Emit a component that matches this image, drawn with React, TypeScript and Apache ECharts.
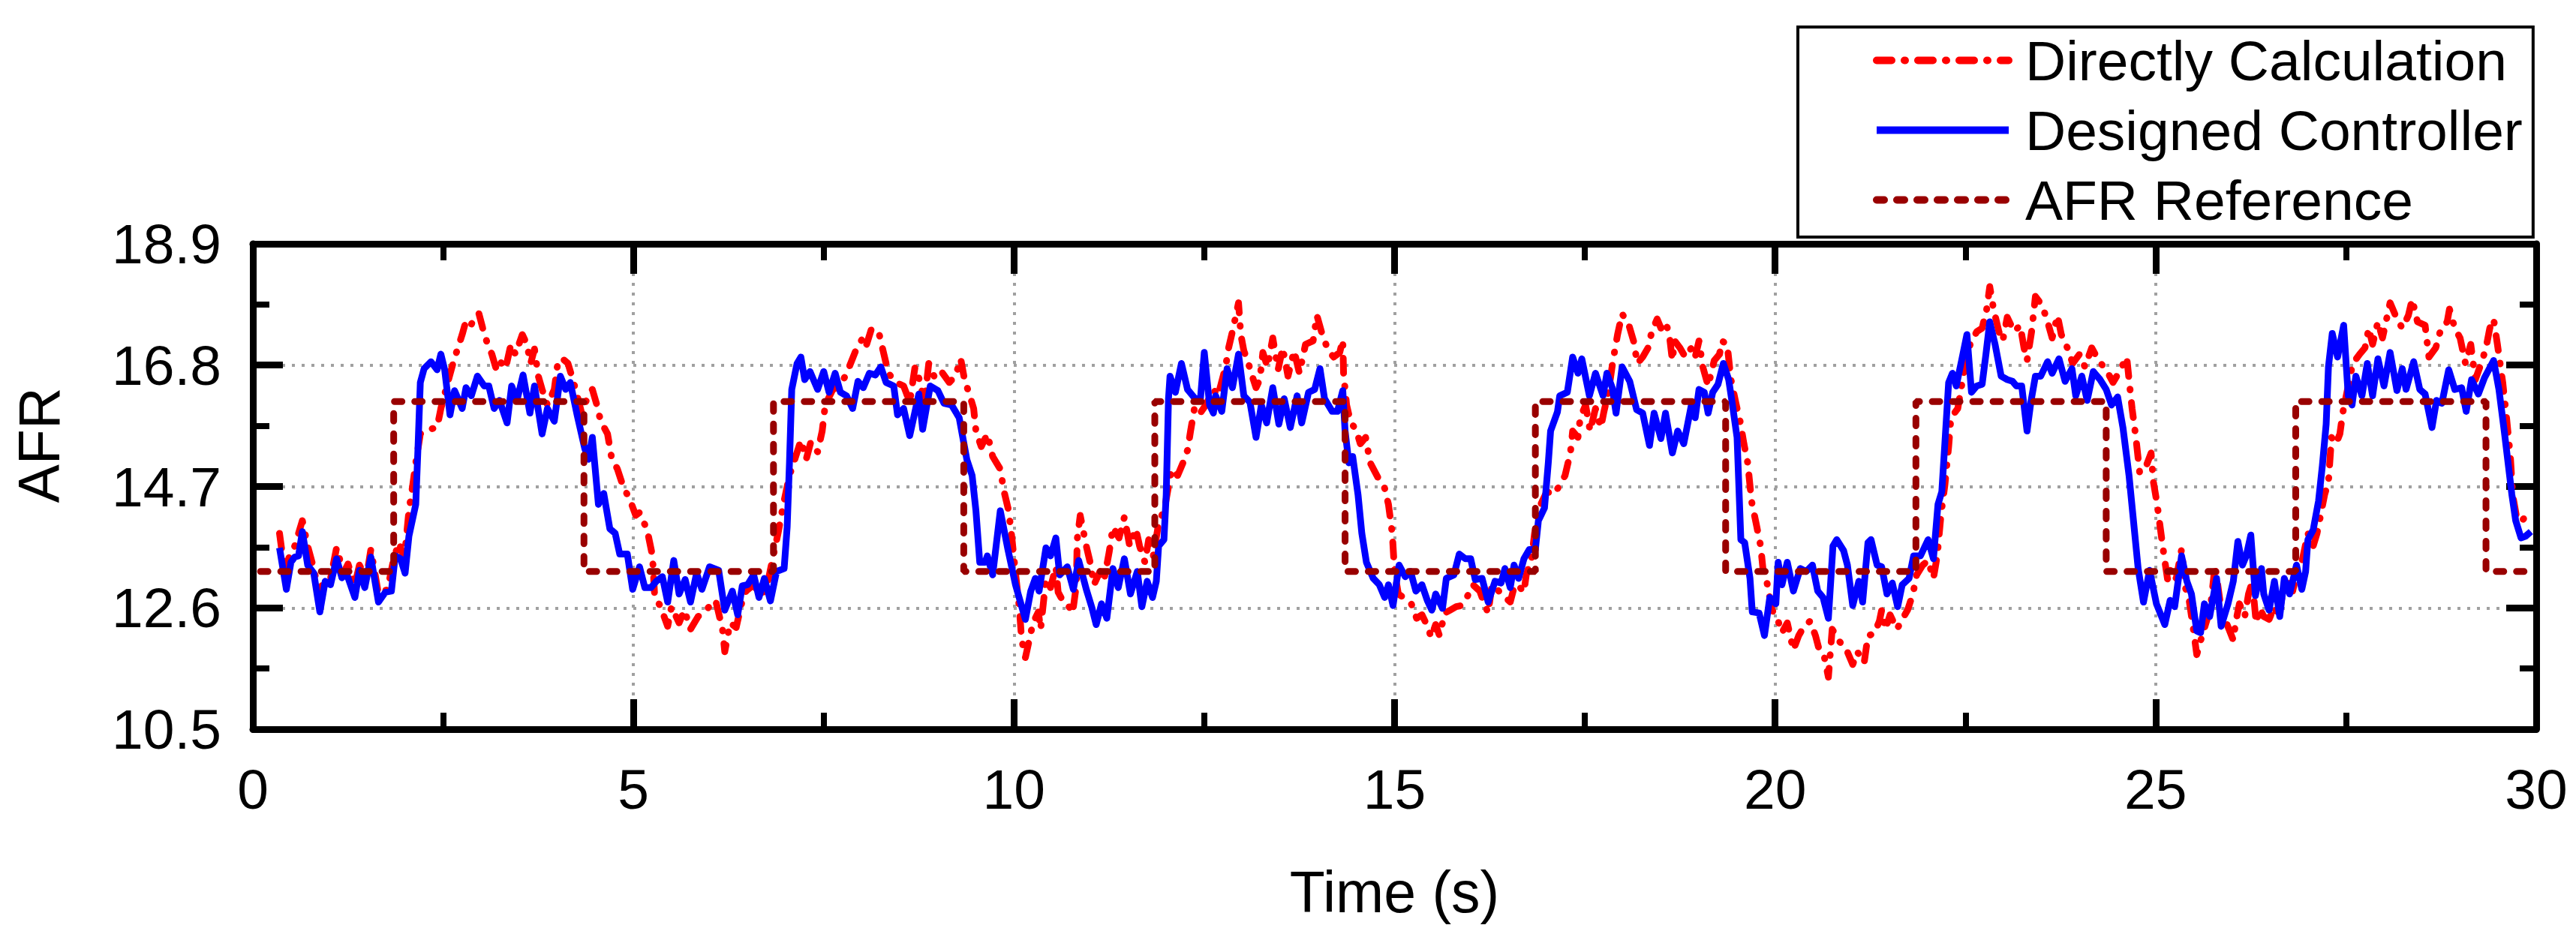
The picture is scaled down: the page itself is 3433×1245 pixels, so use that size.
import React, { useEffect, useRef } from "react";
import * as echarts from "echarts";

// ---- data ----
const xTicks = { min: 0, max: 30, interval: 5 };
const yTicks = { min: 10.5, max: 18.9, interval: 2.1 };

const seriesNames = ["Directly Calculation", "Designed Controller", "AFR Reference"];

const refTime = [0.1, 1.85, 1.85, 4.35, 4.35, 6.84, 6.84, 9.34, 9.34, 11.85, 11.85, 14.35, 14.35, 16.85, 16.85, 19.35, 19.35, 21.85, 21.85, 24.35, 24.35, 26.84, 26.84, 29.34, 29.34, 30];
const refAFR = [13.23, 13.23, 16.17, 16.17, 13.23, 13.23, 16.17, 16.17, 13.23, 13.23, 16.17, 16.17, 13.23, 13.23, 16.17, 16.17, 13.23, 13.23, 16.17, 16.17, 13.23, 13.23, 16.17, 16.17, 13.23, 13.23];

const designedController: [number, number][] = [
  [0.35, 13.64], [0.44, 12.92], [0.5, 13.39], [0.55, 13.48], [0.6, 13.5], [0.65, 13.92], [0.72, 13.34], [0.8, 13.2], [0.88, 12.53], [0.95, 13.06], [1.02, 13.0], [1.1, 13.45], [1.17, 13.12], [1.23, 13.2], [1.34, 12.78], [1.4, 13.25], [1.47, 12.95], [1.55, 13.48], [1.65, 12.7], [1.74, 12.87], [1.82, 12.89], [1.87, 13.5], [1.94, 13.45], [2.0, 13.2], [2.05, 13.84], [2.14, 14.39], [2.17, 15.39], [2.2, 16.5], [2.25, 16.74], [2.34, 16.86], [2.42, 16.72], [2.47, 16.99], [2.52, 16.72], [2.59, 15.94], [2.65, 16.36], [2.75, 16.05], [2.8, 16.41], [2.87, 16.27], [2.95, 16.61], [3.04, 16.44], [3.1, 16.44], [3.17, 16.05], [3.24, 16.19], [3.34, 15.8], [3.4, 16.44], [3.47, 16.19], [3.55, 16.63], [3.64, 15.97], [3.7, 16.44], [3.8, 15.61], [3.87, 16.05], [3.96, 15.83], [4.04, 16.61], [4.11, 16.38], [4.17, 16.5], [4.26, 15.94], [4.36, 15.36], [4.41, 15.17], [4.46, 15.55], [4.54, 14.39], [4.61, 14.58], [4.69, 13.97], [4.76, 13.89], [4.82, 13.53], [4.92, 13.53], [4.99, 12.92],
  [5.08, 13.31], [5.15, 12.95], [5.23, 12.95], [5.3, 13.06], [5.38, 13.14], [5.45, 12.7], [5.53, 13.42], [5.6, 12.84], [5.68, 13.09], [5.75, 12.7], [5.83, 13.2], [5.9, 12.92], [6.0, 13.31], [6.12, 13.25], [6.2, 12.56], [6.3, 12.89], [6.37, 12.48], [6.43, 12.98], [6.5, 13.0], [6.58, 13.17], [6.65, 12.78], [6.72, 13.11], [6.8, 12.72], [6.88, 13.23], [6.98, 13.28], [7.02, 14.0], [7.05, 15.11], [7.08, 16.38], [7.15, 16.83], [7.2, 16.94], [7.25, 16.55], [7.32, 16.69], [7.42, 16.38], [7.5, 16.69], [7.57, 16.33], [7.65, 16.66], [7.72, 16.33], [7.8, 16.27], [7.88, 16.05], [7.95, 16.52], [8.02, 16.41], [8.1, 16.66], [8.18, 16.63], [8.25, 16.77], [8.32, 16.5], [8.42, 16.44], [8.47, 15.94], [8.55, 16.05], [8.63, 15.58], [8.75, 16.3], [8.8, 15.69], [8.9, 16.44], [9.0, 16.36], [9.08, 16.14], [9.18, 16.11], [9.28, 15.89], [9.38, 15.17], [9.45, 14.89], [9.5, 14.28], [9.55, 13.39], [9.62, 13.39], [9.65, 13.5], [9.72, 13.17], [9.82, 14.28], [9.92, 13.61], [10.02, 13.0],
  [10.15, 12.4], [10.22, 12.89], [10.28, 13.11], [10.33, 12.89], [10.42, 13.64], [10.48, 13.5], [10.55, 13.81], [10.6, 13.17], [10.7, 13.31], [10.78, 12.92], [10.85, 13.42], [10.95, 12.92], [11.02, 12.62], [11.08, 12.31], [11.15, 12.67], [11.22, 12.42], [11.3, 13.28], [11.37, 12.95], [11.45, 13.45], [11.53, 12.84], [11.62, 13.23], [11.68, 12.62], [11.75, 13.06], [11.82, 12.78], [11.87, 13.06], [11.9, 13.67], [11.97, 13.78], [12.0, 14.56], [12.03, 16.22], [12.05, 16.61], [12.12, 16.33], [12.2, 16.83], [12.28, 16.38], [12.38, 16.22], [12.45, 16.22], [12.5, 17.02], [12.57, 16.11], [12.62, 15.97], [12.65, 16.27], [12.73, 16.0], [12.8, 16.74], [12.87, 16.41], [12.95, 16.99], [13.02, 16.27], [13.1, 16.16], [13.18, 15.55], [13.25, 16.11], [13.32, 15.8], [13.4, 16.41], [13.48, 15.78], [13.55, 16.22], [13.63, 15.72], [13.72, 16.27], [13.78, 15.8], [13.87, 16.33], [13.95, 16.38], [14.02, 16.74], [14.08, 16.22], [14.18, 16.0], [14.25, 16.0], [14.32, 16.36], [14.35, 15.66], [14.4, 15.11], [14.45, 15.22], [14.52, 14.56], [14.57, 13.89], [14.63, 13.39], [14.72, 13.11], [14.8, 13.0], [14.87, 12.78], [14.92, 13.0], [14.98, 12.64],
  [15.06, 13.34], [15.14, 13.14], [15.21, 13.23], [15.28, 12.89], [15.36, 13.0], [15.43, 12.73], [15.49, 12.56], [15.54, 12.84], [15.63, 12.59], [15.68, 13.11], [15.78, 13.17], [15.85, 13.53], [15.93, 13.45], [16.0, 13.45], [16.06, 13.09], [16.15, 13.11], [16.23, 12.7], [16.32, 13.06], [16.4, 13.03], [16.45, 13.28], [16.52, 12.95], [16.57, 13.34], [16.63, 13.11], [16.7, 13.45], [16.77, 13.61], [16.85, 13.61], [16.89, 14.11], [16.97, 14.33], [17.02, 15.11], [17.05, 15.66], [17.14, 15.99], [17.17, 16.27], [17.27, 16.33], [17.34, 16.94], [17.41, 16.66], [17.46, 16.91], [17.56, 16.27], [17.64, 16.66], [17.74, 16.27], [17.79, 16.66], [17.86, 16.41], [17.91, 15.97], [17.99, 16.77], [18.09, 16.52], [18.18, 16.03], [18.26, 15.97], [18.35, 15.41], [18.41, 15.97], [18.5, 15.53], [18.56, 15.97], [18.65, 15.28], [18.72, 15.66], [18.8, 15.44], [18.9, 16.11], [18.95, 15.89], [19.0, 16.38], [19.07, 16.33], [19.12, 15.97], [19.18, 16.33], [19.25, 16.47], [19.32, 16.83], [19.39, 16.55], [19.44, 16.11], [19.5, 15.55], [19.55, 13.78], [19.6, 13.73], [19.67, 13.11], [19.7, 12.53], [19.79, 12.51], [19.86, 12.12], [19.93, 12.78], [20.01, 12.67],
  [20.04, 13.39], [20.09, 13.0], [20.16, 13.39], [20.24, 12.89], [20.33, 13.28], [20.41, 13.23], [20.49, 13.34], [20.56, 12.89], [20.63, 12.78], [20.7, 12.42], [20.76, 13.67], [20.81, 13.78], [20.9, 13.59], [20.95, 13.34], [21.02, 12.64], [21.1, 13.06], [21.15, 12.7], [21.22, 13.73], [21.26, 13.78], [21.34, 13.34], [21.4, 13.31], [21.47, 12.84], [21.54, 13.03], [21.61, 12.62], [21.67, 13.0], [21.76, 13.11], [21.82, 13.5], [21.91, 13.5], [22.01, 13.78], [22.08, 13.45], [22.14, 14.39], [22.19, 14.61], [22.23, 15.44], [22.28, 16.5], [22.33, 16.66], [22.38, 16.44], [22.45, 16.88], [22.52, 17.33], [22.58, 16.33], [22.65, 16.44], [22.72, 16.47], [22.77, 16.99], [22.82, 17.55], [22.89, 17.16], [22.97, 16.61], [23.05, 16.55], [23.12, 16.52], [23.17, 16.44], [23.24, 16.44], [23.31, 15.66], [23.36, 16.16], [23.42, 16.61], [23.49, 16.61], [23.58, 16.86], [23.64, 16.66], [23.73, 16.91], [23.81, 16.52], [23.9, 16.74], [23.95, 16.27], [24.03, 16.61], [24.1, 16.19], [24.18, 16.69], [24.27, 16.55], [24.35, 16.38], [24.42, 16.11], [24.5, 16.25], [24.57, 15.72], [24.65, 14.89], [24.7, 14.22], [24.77, 13.28], [24.84, 12.7], [24.92, 13.25], [25.01, 12.67],
  [25.12, 12.31], [25.19, 12.73], [25.25, 12.62], [25.34, 13.5], [25.41, 13.06], [25.47, 12.84], [25.54, 12.2], [25.59, 12.17], [25.64, 12.67], [25.71, 12.45], [25.8, 13.11], [25.86, 12.28], [25.95, 12.67], [26.02, 13.06], [26.08, 13.75], [26.14, 13.34], [26.19, 13.5], [26.25, 13.86], [26.31, 12.81], [26.39, 13.28], [26.42, 12.84], [26.49, 12.56], [26.56, 13.06], [26.63, 12.45], [26.69, 13.11], [26.76, 12.84], [26.85, 13.34], [26.92, 12.92], [26.97, 13.23], [27.0, 13.78], [27.07, 13.95], [27.14, 14.45], [27.19, 15.06], [27.24, 15.78], [27.27, 16.77], [27.32, 17.35], [27.39, 16.94], [27.47, 17.49], [27.53, 16.27], [27.58, 16.11], [27.63, 16.61], [27.71, 16.27], [27.78, 16.83], [27.85, 16.27], [27.92, 16.91], [28.0, 16.44], [28.08, 17.02], [28.17, 16.36], [28.24, 16.74], [28.29, 16.38], [28.39, 16.86], [28.47, 16.38], [28.54, 16.3], [28.63, 15.72], [28.69, 16.19], [28.76, 16.14], [28.85, 16.72], [28.93, 16.38], [29.02, 16.41], [29.08, 16.0], [29.15, 16.55], [29.24, 16.3], [29.32, 16.58], [29.44, 16.88], [29.51, 16.38], [29.58, 15.66], [29.64, 15.0], [29.68, 14.56], [29.73, 14.11], [29.8, 13.81], [29.86, 13.84], [29.93, 13.92],
];

const directlyCalculation: [number, number][] = [
  [0.35, 13.89], [0.42, 13.2], [0.48, 13.5], [0.55, 13.67], [0.65, 14.11], [0.72, 13.67], [0.8, 13.28], [0.87, 12.84], [0.92, 13.03], [1.02, 13.11], [1.1, 13.64], [1.19, 13.2], [1.25, 13.36], [1.34, 13.0], [1.4, 13.34], [1.49, 13.11], [1.55, 13.61], [1.65, 12.84], [1.77, 12.92], [1.85, 13.45], [1.92, 13.73], [1.99, 13.45], [2.05, 14.28], [2.1, 14.72], [2.14, 15.11], [2.2, 15.61], [2.32, 15.69], [2.42, 15.72], [2.47, 16.05], [2.56, 16.5], [2.64, 16.88], [2.75, 17.33], [2.79, 17.52], [2.85, 17.44], [2.92, 17.66], [2.97, 17.69], [3.02, 17.44], [3.07, 17.22], [3.14, 16.99], [3.2, 16.72], [3.25, 16.86], [3.32, 16.74], [3.39, 17.16], [3.45, 16.99], [3.54, 17.33], [3.6, 17.16], [3.65, 16.83], [3.7, 17.08], [3.75, 16.61], [3.8, 16.38], [3.87, 16.11], [3.96, 16.38], [4.01, 16.88], [4.07, 16.91], [4.14, 16.83], [4.19, 16.61], [4.24, 16.38], [4.32, 15.97], [4.39, 16.22], [4.46, 16.38], [4.52, 16.11], [4.57, 15.83], [4.66, 15.61], [4.71, 15.22], [4.79, 15.0], [4.86, 14.72], [4.96, 14.45],
  [5.03, 14.2], [5.08, 14.25], [5.18, 13.95], [5.25, 13.5], [5.28, 12.78], [5.35, 12.64], [5.45, 12.28], [5.5, 12.62], [5.6, 12.34], [5.67, 12.56], [5.75, 12.23], [5.85, 12.45], [5.95, 12.56], [6.08, 12.73], [6.17, 12.23], [6.2, 11.84], [6.27, 12.34], [6.35, 12.26], [6.42, 12.67], [6.48, 12.89], [6.58, 13.0], [6.67, 12.81], [6.75, 12.95], [6.83, 13.45], [6.9, 13.89], [6.97, 14.39], [7.05, 14.89], [7.12, 15.17], [7.2, 15.5], [7.27, 15.17], [7.33, 15.47], [7.42, 15.3], [7.48, 15.66], [7.52, 16.11], [7.62, 16.38], [7.72, 16.44], [7.82, 16.72], [7.92, 17.05], [8.0, 17.24], [8.05, 17.1], [8.13, 17.44], [8.23, 17.33], [8.28, 17.05], [8.35, 16.66], [8.45, 16.5], [8.55, 16.44], [8.63, 16.16], [8.7, 16.77], [8.77, 16.5], [8.82, 16.11], [8.88, 16.83], [8.95, 16.61], [9.03, 16.72], [9.15, 16.5], [9.23, 16.61], [9.3, 16.91], [9.35, 16.55], [9.42, 16.27], [9.47, 16.05], [9.5, 15.66], [9.57, 15.39], [9.65, 15.61], [9.72, 15.22], [9.82, 15.0], [9.87, 14.61], [9.93, 14.28], [9.97, 13.84], [10.02, 13.2], [10.07, 12.6], [10.1, 12.06],
  [10.15, 11.74], [10.2, 12.04], [10.25, 12.34], [10.32, 12.53], [10.35, 12.23], [10.42, 13.11], [10.48, 12.95], [10.55, 13.31], [10.58, 12.87], [10.65, 12.7], [10.7, 12.67], [10.77, 12.51], [10.82, 13.0], [10.83, 13.78], [10.87, 14.2], [10.95, 13.67], [11.0, 13.39], [11.05, 13.0], [11.13, 13.23], [11.18, 13.06], [11.25, 13.56], [11.3, 14.0], [11.38, 13.81], [11.45, 14.17], [11.52, 13.67], [11.6, 13.97], [11.65, 13.67], [11.72, 13.39], [11.77, 13.78], [11.83, 13.5], [11.9, 14.06], [11.98, 14.33], [12.07, 15.0], [12.15, 14.89], [12.22, 15.11], [12.28, 15.33], [12.32, 15.66], [12.37, 16.05], [12.43, 15.94], [12.52, 16.11], [12.62, 16.38], [12.68, 16.27], [12.78, 16.77], [12.82, 17.1], [12.88, 17.44], [12.95, 17.88], [12.98, 17.33], [13.02, 17.05], [13.08, 16.83], [13.13, 16.61], [13.18, 16.41], [13.23, 16.55], [13.27, 17.02], [13.33, 16.77], [13.4, 17.27], [13.47, 16.72], [13.53, 17.1], [13.6, 16.61], [13.68, 17.05], [13.75, 16.66], [13.83, 17.16], [13.93, 17.22], [13.98, 17.66], [14.05, 17.33], [14.13, 17.05], [14.2, 16.94], [14.28, 17.02], [14.32, 17.24], [14.33, 16.66], [14.37, 16.11], [14.42, 15.83], [14.5, 15.66], [14.55, 15.44], [14.62, 15.55], [14.68, 15.11], [14.78, 14.86], [14.87, 14.67], [14.92, 14.39], [14.97, 13.89], [15.0, 13.23], [15.05, 12.84],
  [15.14, 12.76], [15.22, 12.67], [15.29, 12.42], [15.36, 12.48], [15.44, 12.26], [15.48, 12.09], [15.54, 12.31], [15.59, 12.12], [15.66, 12.51], [15.73, 12.56], [15.81, 12.62], [15.88, 12.64], [15.95, 12.78], [16.03, 13.0], [16.12, 12.89], [16.18, 12.67], [16.23, 12.51], [16.28, 13.0], [16.37, 12.89], [16.43, 12.81], [16.52, 12.7], [16.58, 13.0], [16.65, 12.95], [16.7, 12.87], [16.73, 13.17], [16.8, 13.45], [16.84, 13.89], [16.91, 14.36], [17.0, 14.61], [17.09, 14.56], [17.17, 14.72], [17.24, 14.89], [17.31, 15.28], [17.34, 15.66], [17.41, 15.55], [17.44, 15.89], [17.51, 16.11], [17.57, 15.66], [17.64, 16.05], [17.71, 15.72], [17.75, 15.99], [17.81, 16.33], [17.87, 16.88], [17.93, 17.33], [17.99, 17.69], [18.08, 17.49], [18.14, 17.22], [18.19, 16.83], [18.26, 16.94], [18.33, 17.1], [18.38, 17.38], [18.45, 17.6], [18.5, 17.44], [18.56, 17.55], [18.61, 17.33], [18.65, 16.88], [18.68, 17.22], [18.75, 17.1], [18.82, 16.94], [18.9, 17.1], [18.95, 16.94], [19.0, 17.22], [19.05, 16.77], [19.12, 16.44], [19.2, 16.88], [19.27, 16.99], [19.3, 17.22], [19.37, 17.16], [19.42, 16.55], [19.49, 16.11], [19.54, 15.83], [19.59, 15.44], [19.64, 15.11], [19.69, 14.45], [19.76, 14.0], [19.81, 13.67], [19.84, 13.28], [19.89, 13.06], [19.96, 12.56],
  [20.02, 12.45], [20.09, 12.17], [20.16, 12.34], [20.24, 11.87], [20.31, 12.12], [20.38, 12.28], [20.46, 12.37], [20.53, 12.12], [20.58, 11.87], [20.65, 11.73], [20.7, 11.4], [20.75, 12.23], [20.85, 12.01], [20.93, 11.9], [21.02, 11.62], [21.08, 11.84], [21.17, 11.65], [21.22, 12.12], [21.3, 12.15], [21.37, 12.37], [21.4, 12.56], [21.45, 12.23], [21.51, 12.48], [21.6, 12.23], [21.67, 12.4], [21.74, 12.56], [21.81, 12.84], [21.86, 13.17], [21.94, 13.34], [22.01, 13.42], [22.08, 13.11], [22.13, 13.5], [22.18, 14.22], [22.23, 14.72], [22.28, 15.39], [22.31, 15.89], [22.4, 16.05], [22.45, 16.44], [22.52, 16.99], [22.58, 17.22], [22.65, 17.38], [22.72, 17.44], [22.78, 17.77], [22.82, 18.16], [22.87, 17.77], [22.94, 17.38], [22.99, 17.22], [23.05, 17.63], [23.14, 17.38], [23.22, 17.49], [23.27, 17.1], [23.31, 16.88], [23.37, 17.38], [23.42, 17.99], [23.51, 17.83], [23.58, 17.55], [23.64, 17.27], [23.71, 17.66], [23.76, 17.33], [23.84, 17.1], [23.91, 16.83], [24.0, 16.99], [24.07, 16.77], [24.16, 17.1], [24.25, 16.88], [24.35, 16.72], [24.44, 16.5], [24.51, 16.66], [24.62, 16.94], [24.65, 16.55], [24.69, 16.05], [24.74, 15.55], [24.79, 14.94], [24.86, 15.0], [24.94, 15.28], [24.97, 14.78], [25.02, 14.39], [25.07, 13.89], [25.11, 13.5], [25.16, 13.06],
  [25.2, 13.28], [25.27, 13.11], [25.34, 13.61], [25.39, 12.95], [25.44, 12.73], [25.49, 12.28], [25.54, 11.79], [25.61, 12.12], [25.68, 12.42], [25.73, 12.73], [25.78, 13.34], [25.85, 12.67], [25.93, 12.34], [26.02, 12.04], [26.05, 12.34], [26.1, 12.67], [26.17, 12.45], [26.22, 12.84], [26.27, 13.06], [26.32, 12.34], [26.37, 12.59], [26.42, 12.45], [26.49, 12.4], [26.56, 12.62], [26.61, 12.42], [26.66, 12.78], [26.73, 13.11], [26.8, 12.89], [26.86, 13.23], [26.93, 13.45], [27.0, 13.89], [27.07, 13.67], [27.12, 13.89], [27.17, 14.22], [27.22, 14.56], [27.27, 14.78], [27.31, 15.55], [27.37, 15.44], [27.42, 15.61], [27.46, 15.99], [27.53, 16.44], [27.59, 16.83], [27.68, 16.99], [27.75, 17.1], [27.8, 17.44], [27.85, 17.16], [27.92, 17.55], [27.98, 17.27], [28.08, 17.88], [28.17, 17.6], [28.24, 17.44], [28.32, 17.66], [28.37, 17.94], [28.44, 17.55], [28.54, 17.49], [28.59, 16.94], [28.68, 17.1], [28.75, 17.44], [28.83, 17.55], [28.86, 17.77], [28.93, 17.44], [29.0, 17.27], [29.07, 16.83], [29.14, 17.16], [29.2, 16.55], [29.29, 16.88], [29.34, 17.1], [29.39, 17.44], [29.44, 17.6], [29.49, 17.16], [29.56, 16.5], [29.61, 15.89], [29.66, 15.22], [29.69, 14.56], [29.75, 14.11], [29.81, 14.11], [29.88, 14.2],
];

const FONT = "Liberation Sans, Arial, sans-serif";

function buildOption() {
  const refData = refTime.map((t, i) => [t, refAFR[i]]);
  const axisLine = { show: true, onZero: false, lineStyle: { color: "#000", width: 9 } };
  const tick = { show: true, inside: true, length: 40, lineStyle: { color: "#000", width: 9 } };
  const minor = { show: true, splitNumber: 2, length: 22, lineStyle: { color: "#000", width: 8 } };
  const grid = { show: true, lineStyle: { color: "#a0a0a0", width: 4, type: [4, 9] } };
  return {
    animation: false,
    backgroundColor: "#ffffff",
    textStyle: { fontFamily: FONT },
    grid: { left: 337, right: 53, top: 325, bottom: 273, containLabel: false },
    legend: {
      orient: "vertical",
      left: 2396,
      top: 36,
      data: seriesNames,
      itemWidth: 176,
      itemHeight: 20,
      itemGap: 18,
      padding: [7, 14, 12, 100],
      borderColor: "#000",
      borderWidth: 4,
      itemStyle: { opacity: 0 },
      lineStyle: { width: 10 },
      textStyle: { fontFamily: FONT, fontSize: 75, color: "#000", lineHeight: 75, padding: [0, 0, 0, 17] },
    },
    xAxis: [
      {
        type: "value",
        position: "bottom",
        min: xTicks.min,
        max: xTicks.max,
        interval: xTicks.interval,
        name: "Time (s)",
        nameLocation: "middle",
        nameGap: 178,
        nameTextStyle: { fontFamily: FONT, fontSize: 77, color: "#000" },
        axisLine,
        axisTick: tick,
        minorTick: minor,
        splitLine: grid,
        axisLabel: { fontFamily: FONT, fontSize: 75, color: "#000", margin: 42 },
      },
      {
        type: "value",
        position: "top",
        min: xTicks.min,
        max: xTicks.max,
        interval: xTicks.interval,
        axisLine,
        axisTick: tick,
        minorTick: minor,
        splitLine: { show: false },
        axisLabel: { show: false },
      },
    ],
    yAxis: [
      {
        type: "value",
        position: "left",
        min: yTicks.min,
        max: yTicks.max,
        interval: yTicks.interval,
        name: "AFR",
        nameLocation: "middle",
        nameGap: 247,
        nameTextStyle: { fontFamily: FONT, fontSize: 77, color: "#000", padding: [0, 0, 0, 110] },
        axisLine,
        axisTick: tick,
        minorTick: minor,
        splitLine: grid,
        axisLabel: {
          fontFamily: FONT,
          fontSize: 75,
          color: "#000",
          margin: 42,
          formatter: (v: number) => v.toFixed(1),
        },
      },
      {
        type: "value",
        position: "right",
        min: yTicks.min,
        max: yTicks.max,
        interval: yTicks.interval,
        axisLine,
        axisTick: tick,
        minorTick: minor,
        splitLine: { show: false },
        axisLabel: { show: false },
      },
    ],
    series: [
      {
        name: seriesNames[0],
        type: "line",
        data: directlyCalculation,
        symbol: "none",
        lineStyle: { color: "#ff0000", width: 9, type: [20, 17, 1, 17], cap: "round", join: "round" },
        itemStyle: { color: "#ff0000" },
        z: 2,
      },
      {
        name: seriesNames[1],
        type: "line",
        data: designedController,
        symbol: "none",
        lineStyle: { color: "#0000ff", width: 9, type: "solid", join: "round" },
        itemStyle: { color: "#0000ff" },
        z: 3,
      },
      {
        name: seriesNames[2],
        type: "line",
        data: refData,
        symbol: "none",
        lineStyle: { color: "#990000", width: 9, type: [10, 17], cap: "round" },
        itemStyle: { color: "#990000" },
        z: 4,
      },
    ],
  };
}

export default function App() {
  const ref = useRef<HTMLDivElement | null>(null);
  useEffect(() => {
    if (!ref.current) return;
    const chart = echarts.init(ref.current, undefined, { renderer: "svg" });
    chart.setOption(buildOption() as any);
    return () => chart.dispose();
  }, []);
  return (
    <div
      ref={ref}
      style={{ position: "absolute", left: 0, top: 0, width: 3433, height: 1245, background: "#fff" }}
    />
  );
}
